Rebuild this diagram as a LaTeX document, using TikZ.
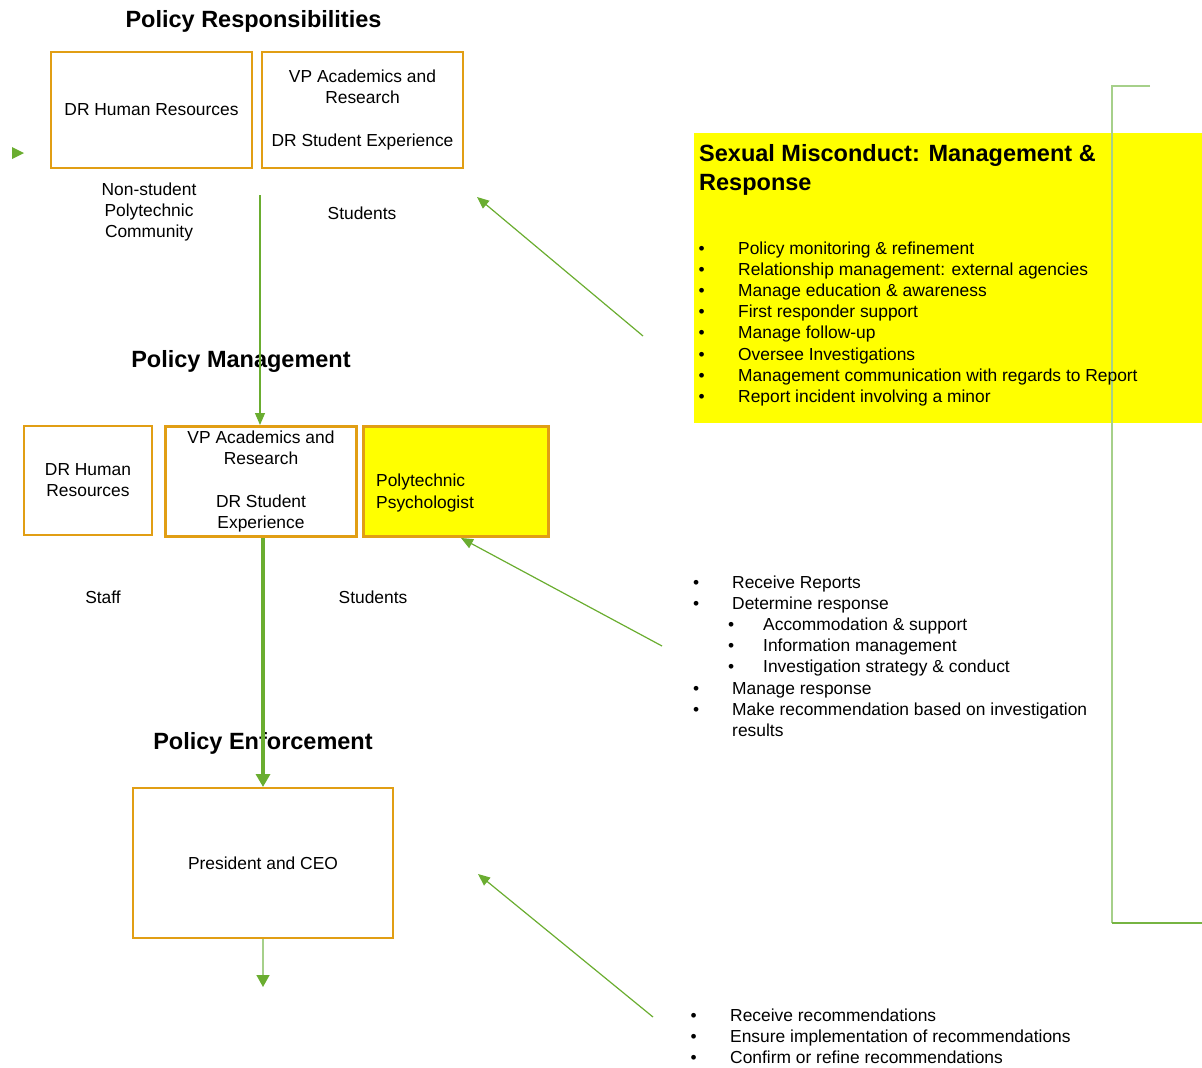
\documentclass[tikz,border=0pt]{standalone}
\usepackage{fontspec}
\setmainfont{Liberation Sans}
\usetikzlibrary{positioning,arrows.meta}
\definecolor{boxorange}{RGB}{225,158,20}
\definecolor{arrowgreen}{RGB}{106,173,48}
\definecolor{palegreen}{RGB}{166,208,138}
\definecolor{hiyellow}{RGB}{255,255,0}
\newcommand{\bulcol}[1]{\makebox[#1][l]{\textbullet}}

\begin{document}
\begin{tikzpicture}[x=1pt, y=-1pt, font=\fontsize{17.4}{21.2}\selectfont,
    orgbox/.style={draw=boxorange, rectangle, line width=2pt, inner sep=0pt, align=center},
    heading/.style={font=\fontsize{23.5}{29}\selectfont\bfseries, inner sep=0pt},
    txt/.style={inner sep=0pt, align=center},
    listtxt/.style={inner sep=0pt, anchor=base west},
    link/.style={-{Triangle[length=12pt,width=10pt]}, draw=arrowgreen, line width=1.2pt}]
        \useasboundingbox (0,0) rectangle (1202,1068);

        % policy responsibilities
        \node[heading] (respTitle) at (253.5,21.5) {Policy Responsibilities};
        \node[orgbox, minimum width=201pt, minimum height=116pt] (hrTop) at (151.5,110) {DR Human Resources};
        \node[orgbox, minimum width=201pt, minimum height=116pt, right=8pt of hrTop] (vpTop) {VP Academics and\\Research\\[21.2pt]DR Student Experience};
        \fill[arrowgreen] (12,147) -- (24,153) -- (12,159) -- cycle;
        \node[txt] (nonStudent) at (149,212) {Non-student\\Polytechnic\\Community};
        \node[txt] (studentsTop) at (362,213) {Students};

        % policy management
        \node[heading] (mgmtTitle) at (241,361.5) {Policy Management};
        \node[orgbox, minimum width=128pt, minimum height=109pt] (hrMid) at (88,480) {DR Human\\Resources};
        \node[orgbox, line width=3pt, minimum width=191pt, minimum height=110pt] (vpMid) at (261,481.5) {VP Academics and\\Research\\[21.2pt]DR Student\\Experience};
        \node[orgbox, line width=3pt, fill=hiyellow, minimum width=185pt, minimum height=110pt, right=4pt of vpMid] (psych) {};
        \node[txt, align=left, anchor=west] (psychText) at (376,493) {Polytechnic\\Psychologist};
        \node[txt] (staff) at (103,597) {Staff};
        \node[txt] (studentsMid) at (373,597) {Students};

        % policy enforcement
        \node[heading] (enfTitle) at (263,743.5) {Policy Enforcement};
        \node[orgbox, minimum width=260pt, minimum height=150pt] (pres) at (263,863) {President and CEO};

        \coordinate (topLineStart) at (260,195);
        \coordinate (presOut) at (263,987);
        \draw[link] (topLineStart) -- (topLineStart |- vpMid.north);
        \draw[link, line width=4pt, -{Triangle[length=13pt,width=14pt]}] (pres.north |- vpMid.south) -- (pres.north);
        \draw[draw=palegreen, line width=1.5pt, -{Triangle[length=12pt,width=13pt,color=arrowgreen]}] (pres.south) -- (presOut);

        % management & response box
        \node[fill=hiyellow, minimum width=508pt, minimum height=290pt, inner sep=0pt, anchor=north west] (respBox) at (694,133) {};
        \draw[palegreen, line width=2pt] (1150,86) -- (1112,86) -- (1112,923);
        \draw[arrowgreen!80!palegreen, line width=2pt] (1112,923) -- (1202,923);
        \node[heading, align=left, anchor=north west] (respHead) at (699,144) {Sexual Misconduct: Management \&\\Response};
        \node[listtxt] (respList) at (698.5,254) {\begin{tabular}[t]{@{}l@{}}
            \bulcol{39.5pt}Policy monitoring \& refinement\\
            \bulcol{39.5pt}Relationship management: external agencies\\
            \bulcol{39.5pt}Manage education \& awareness\\
            \bulcol{39.5pt}First responder support\\
            \bulcol{39.5pt}Manage follow-up\\
            \bulcol{39.5pt}Oversee Investigations\\
            \bulcol{39.5pt}Management communication with regards to Report\\
            \bulcol{39.5pt}Report incident involving a minor
        \end{tabular}};

        % psychologist duties
        \node[listtxt] (psychList) at (693,588) {\begin{tabular}[t]{@{}l@{}}
            \bulcol{39pt}Receive Reports\\
            \bulcol{39pt}Determine response\\
            \hspace*{35pt}\bulcol{35pt}Accommodation \& support\\
            \hspace*{35pt}\bulcol{35pt}Information management\\
            \hspace*{35pt}\bulcol{35pt}Investigation strategy \& conduct\\
            \bulcol{39pt}Manage response\\
            \bulcol{39pt}Make recommendation based on investigation\\
            \hspace*{39pt}results
        \end{tabular}};

        % president duties
        \node[listtxt] (presList) at (690.5,1021) {\begin{tabular}[t]{@{}l@{}}
            \bulcol{39.5pt}Receive recommendations\\
            \bulcol{39.5pt}Ensure implementation of recommendations\\
            \bulcol{39.5pt}Confirm or refine recommendations
        \end{tabular}};

        \coordinate (respTail) at (643,336);
        \coordinate (respHeadPt) at (477,197);
        \coordinate (psychTail) at (662,646);
        \coordinate (presTail) at (653,1017);
        \coordinate (presHeadPt) at (478,874);
        \draw[link] (respTail) -- (respHeadPt);
        \draw[link] (psychTail) -- ([xshift=5pt]psych.south);
        \draw[link] (presTail) -- (presHeadPt);
    \end{tikzpicture}
\end{document}
